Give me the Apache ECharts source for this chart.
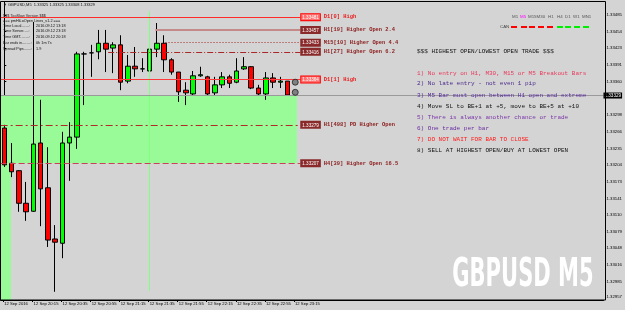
<!DOCTYPE html>
<html><head><meta charset="utf-8">
<script src="https://cdn.jsdelivr.net/npm/echarts@6/dist/echarts.min.js"></script>
<style>html,body{margin:0;padding:0;background:#d4d4d4}#c{width:625px;height:310px}</style>
</head><body><div id="c"></div>
<script>
// ---- data ----
const slotCount = 83; // 40 bars + right shift
const xTickIdx = [0,3,7,11,15,19,23,27,31,35,39];
const xTickLabels = ['12 Sep 2016','12 Sep 20:15','12 Sep 20:35','12 Sep 20:55','12 Sep 21:15','12 Sep 21:35','12 Sep 21:55','12 Sep 22:15','12 Sep 22:35','12 Sep 22:55','12 Sep 23:15'];
// [open, close, low, high]
const candles = [
 [1.33273,1.33204,1.33200,1.33279],[1.33207,1.33191,1.33181,1.33245],[1.33193,1.33132,1.33116,1.33194],
 [1.33132,1.33116,1.33099,1.33172],[1.33117,1.33243,1.33116,1.33472],[1.33245,1.33159,1.33089,1.33326],
 [1.33161,1.33063,1.33050,1.33237],[1.33065,1.33059,1.32966,1.33091],[1.33057,1.33245,1.33029,1.33266],
 [1.33245,1.33256,1.33174,1.33284],[1.33256,1.33412,1.33234,1.33416],[1.33412,1.33412,1.33316,1.33416],
 [1.33414,1.33414,1.33369,1.33429],[1.33416,1.33432,1.33402,1.33457],[1.33432,1.33421,1.33378,1.33457],
 [1.33423,1.33429,1.33376,1.33434],[1.33429,1.33359,1.33344,1.33447],[1.33361,1.33389,1.33357,1.33410],
 [1.33389,1.33384,1.33369,1.33425],[1.33384,1.33384,1.33378,1.33404],[1.33380,1.33421,1.33369,1.33438],
 [1.33421,1.33432,1.33406,1.33470],[1.33432,1.33401,1.33378,1.33447],[1.33401,1.33378,1.33373,1.33404],
 [1.33378,1.33341,1.33322,1.33378],[1.33344,1.33339,1.33316,1.33359],[1.33337,1.33371,1.33335,1.33380],
 [1.33371,1.33373,1.33369,1.33388],[1.33369,1.33337,1.33335,1.33371],[1.33339,1.33354,1.33335,1.33369],
 [1.33354,1.33369,1.33348,1.33378],[1.33369,1.33357,1.33348,1.33373],[1.33359,1.33380,1.33357,1.33404],
 [1.33384,1.33388,1.33382,1.33406],[1.33388,1.33348,1.33346,1.33389],[1.33348,1.33337,1.33335,1.33354],
 [1.33337,1.33367,1.33326,1.33378],[1.33367,1.33359,1.33348,1.33376],[1.33359,1.33361,1.33348,1.33369],
 [1.33361,1.33335,1.33335,1.33361]
];
const yMin = 1.329506, yMax = 1.335103;
const yTicks = [1.33485,1.33454,1.33423,1.33391,1.33360,1.33298,1.33266,1.33235,1.33204,1.33173,1.33141,1.33110,1.33079,1.33048,1.33016,1.32985,1.32957];
const bidPrice = 1.33329;
const bidLine = 1.33334;
const levelNames = ['D1[0] High','H1[19] Higher Open 2.4','M15[10] Higher Open 4.4','H1[27] Higher Open 6.2','D1[1] High','H1[498] PD Higher Open','H4[39] Higher Open 16.5'];
const levelPrices = [1.33481,1.33457,1.33433,1.33416,1.33364,1.33279,1.33207];
const levelStartSlot = [-0.5,20.8,22.2,14.3,-0.5,-0.5,-0.5];
const levelEndSlot = 40.75;
const zoneTop = 1.33334, zoneBottom = 1.33207, zoneEndSlot = 40.3;
const stripEndSlot = 0.92;
const markerSlot = 19.94, markerTop = 1.33492, markerBottom = 1.32968;
const tradeIcons = [[40.06,1.33359],[40.06,1.33340]];
const rules = [
 '$$$ HIGHEST OPEN/LOWEST OPEN TRADE $$$','',
 '1) No entry on H1, M30, M15 or M5 Breakout Bars',
 '2) No late entry - not even 1 pip',
 '3) M5 Bar must open between H1 open and extreme',
 '4) Move SL to BE+1 at +5, move to BE+5 at +10',
 '5) There is always another chance or trade',
 '6) One trade per bar',
 '7) DO NOT WAIT FOR BAR TO CLOSE',
 '8) SELL AT HIGHEST OPEN/BUY AT LOWEST OPEN'
];
const infoLines = [
 ['$$$ TooSlow Version $$$',''],
 ['=== pmHiLoOpen Lines_v1.2 ===',''],
 ['Time Local.......:','2016.09.12 13:18'],
 ['Time Server.....:','2016.09.12 23:18'],
 ['Time GMT........:','2016.09.12 20:18'],
 ['Bar ends in........:','0h 1m 7s'],
 ['Spread Pips.......:','1.9']
];
const tfNames = ['M1','M5','M15M30','H1','H4','D1','W1','MN1'];

// ---- styles ----
const ruleColors = ['#111','#111','#e8385a','#4a2a8a','#5a2aa0','#111','#7a35a8','#6a2aa0','#ff1a1a','#111'];
const levelStyles = [
 {color:'#ff2a2a',width:1,type:'solid'},
 {color:'#c48a8a',width:2,type:'solid'},
 {color:'#a02828',width:1,type:[1,2]},
 {color:'#a82828',width:1,type:[6,2,1,2]},
 {color:'#ff3a3a',width:1,type:'solid'},
 {color:'#b02a2a',width:1,type:[7,3,2,3]},
 {color:'#c8405a',width:1,type:[6,3]}
];
const levelBox = [
 {bg:'#ff7070',bd:'#ff0000',tc:'#e81a1a'},
 {bg:'#8a2a2a',bd:'#8a2a2a',tc:'#8a1a1a'},
 {bg:'#8a2a2a',bd:'#8a2a2a',tc:'#8a1a1a'},
 {bg:'#8a2a2a',bd:'#8a2a2a',tc:'#8a1a1a'},
 {bg:'#ff7070',bd:'#ff0000',tc:'#e81a1a'},
 {bg:'#8a2a2a',bd:'#8a2a2a',tc:'#8a1a1a'},
 {bg:'#8a2a2a',bd:'#8a2a2a',tc:'#8a1a1a'}
];

const categories = Array.from({length: slotCount}, (_, i) => String(i));
const SANS = '"Liberation Sans", Arial, sans-serif';
const MONO = '"Liberation Mono", "Courier New", monospace';
// label anchor (slot units) : MT4 puts the time text just right of the bar
const xLabelPos = xTickIdx.map((i, k) => k === 0 ? -0.18 : i + 0.87);

const levelData = levelPrices.map((p, i) => [
 {coord:[levelStartSlot[i], p], lineStyle: levelStyles[i],
  label:{show:true, position:'end', distance:1,
   formatter: '{b|' + p.toFixed(5) + '}{t|' + levelNames[i] + '}',
   rich:{
    b:{backgroundColor:levelBox[i].bg, borderColor:levelBox[i].bd, borderWidth:1, color:'#fff', fontSize:4.6, fontFamily:SANS, padding:[1,1,0,1]},
    t:{color:levelBox[i].tc, fontSize:5.4, fontFamily:MONO, fontWeight:'bold', padding:[0,0,0,4]}
   }}},
 {coord:[levelEndSlot, p]}
]);

const graphics = [];
graphics.push({type:'text', x:3, y:5, style:{text:'\u25BC GBPUSD,M5  1.33325 1.33325 1.33308 1.33329', font:'4px '+SANS, fill:'#111', verticalAlign:'middle'}, z:100});
const infoY = [15.7,20.7,26,31.2,37,43.2,48.6];
infoLines.forEach((l, i) => {
 graphics.push({type:'text', x:3, y:infoY[i], style:{text:l[0], font:'3.8px '+SANS, fill:i===0?'#3a1a1a':'#111', verticalAlign:'middle'}, z:100});
 if (l[1]) graphics.push({type:'text', x:36, y:infoY[i], style:{text:l[1], font:'3.8px '+SANS, fill:'#111', verticalAlign:'middle'}, z:100});
});
const ruleY = [51,62,73.3,83.8,95,106,117,128.3,139,150];
rules.forEach((r, i) => {
 if (!r) return;
 graphics.push({type:'text', x:417, y:ruleY[i], style:{text:r, font:'6px '+MONO, fill:ruleColors[i], verticalAlign:'middle'}, z:100});
});
const tfX = [512,520,528,548,557,565,573,582];
tfNames.forEach((t, i) => {
 graphics.push({type:'text', x:tfX[i], y:16.5, style:{text:t, font:'4.4px '+SANS, fill:t==='M5'?'#ff00ff':'#555', verticalAlign:'middle'}, z:100});
});
graphics.push({type:'text', x:500, y:27, style:{text:'CAN', font:'4.4px '+SANS, fill:'#444', verticalAlign:'middle'}, z:100});
const dashX = [511,521,529,538,547,557,565,574,583];
dashX.forEach((x, i) => {
 graphics.push({type:'line', shape:{x1:x, y1:27, x2:x+6, y2:27}, style:{stroke:i<5?'#ff0000':'#00ee00', lineWidth:2}, z:100});
});
graphics.push({type:'text', x:523, y:276, scaleX:0.6, style:{text:'GBPUSD M5', font:'bold 39px "Liberation Sans Narrow", "DejaVu Sans Condensed", "Liberation Sans", sans-serif', fill:'#ffffff', align:'center', verticalAlign:'middle'}, z:100});
graphics.push({type:'rect', shape:{x:0.5, y:1.5, width:605, height:298.5}, style:{fill:null, stroke:'#000', lineWidth:1}, z:101});

const chart = echarts.init(document.getElementById('c'), null, {renderer:'canvas'});
chart.setOption({
 animation:false,
 backgroundColor:'#d4d4d4',
 grid:{left:-1.37, right:20, top:1.5, bottom:10},
 xAxis:[{
   type:'category', data:categories, boundaryGap:true,
   axisLine:{show:true, lineStyle:{color:'#000', width:1}},
   axisTick:{show:false}, axisLabel:{show:false}, splitLine:{show:false}
 },{
   type:'value', min:-0.5, max:slotCount-0.5, show:true, position:'bottom',
   axisLine:{show:false},
   axisTick:{show:true, length:2, customValues:xLabelPos, lineStyle:{color:'#000'}},
   axisLabel:{show:true, customValues:xLabelPos, hideOverlap:false, showMinLabel:true, showMaxLabel:true,
     align:'left', margin:2, color:'#000', fontSize:4.2, fontFamily:SANS,
     formatter:(v)=>{ const k = xLabelPos.findIndex(p => Math.abs(p - v) < 1e-6); return k < 0 ? '' : ' ' + xTickLabels[k]; }},
   splitLine:{show:false}
 }],
 yAxis:{
   type:'value', position:'right', min:yMin, max:yMax, scale:true,
   axisLine:{show:true, lineStyle:{color:'#000'}},
   axisTick:{show:true, length:2, customValues:yTicks, lineStyle:{color:'#000'}},
   axisLabel:{show:true, customValues:yTicks, margin:3, color:'#000', fontSize:4.3, fontFamily:SANS, formatter:(v)=>v.toFixed(5)},
   splitLine:{show:false}
 },
 graphic:graphics,
 series:[
  {type:'line', xAxisIndex:1, data:[], z:1, silent:true,
   markArea:{silent:true, itemStyle:{color:'#98fb98', opacity:1}, data:[
     [{coord:[-0.5, zoneTop]},{coord:[zoneEndSlot, zoneBottom]}],
     [{coord:[-0.5, zoneTop]},{coord:[stripEndSlot, yMin]}]
   ]},
   markLine:{silent:true, symbol:'none', label:{show:false}, data:[
     [{coord:[markerSlot, markerTop], lineStyle:{color:'#80ff80', width:1, type:'solid'}},{coord:[markerSlot, markerBottom]}]
   ]}
  },
  {type:'candlestick', xAxisIndex:0, data:candles, barWidth:5, z:3,
   itemStyle:{color:'#00ff00', color0:'#ff0000', borderColor:'#000', borderColor0:'#000', borderColorDoji:'#000', borderWidth:1}},
  {type:'line', xAxisIndex:1, data:[], z:4, silent:true,
   markLine:{silent:true, symbol:'none', data: levelData.concat([
     [{coord:[-0.5, bidLine], lineStyle:{color:'#9a9a9a', width:1, type:'solid'},
       label:{show:true, position:'end', distance:0, formatter: bidPrice.toFixed(5), backgroundColor:'#000', color:'#fff', fontSize:4.6, fontFamily:SANS, padding:[1,1,0,1]}},
      {coord:[slotCount-0.5, bidLine]}]
   ])}
  },
  {type:'scatter', xAxisIndex:1, data:tradeIcons, symbol:'circle', symbolSize:6, z:5, silent:true,
   itemStyle:{color:'#6a6a6a', borderColor:'#222', borderWidth:1}}
 ]
});
</script></body></html>
